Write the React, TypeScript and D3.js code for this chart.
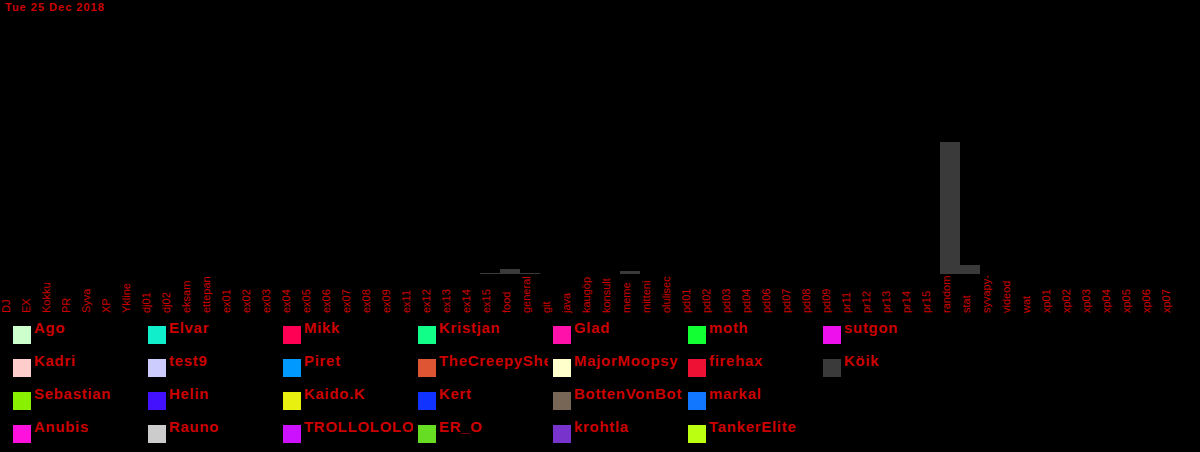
import React from "react";
import * as d3 from "d3";

const TITLE = "Tue 25 Dec 2018";

const categories = [
  "DJ", "EX", "Kokku", "PR", "Syva", "XP", "Ykline", "dj01", "dj02", "eksam",
  "ettepan", "ex01", "ex02", "ex03", "ex04", "ex05", "ex06", "ex07", "ex08", "ex09",
  "ex11", "ex12", "ex13", "ex14", "ex15", "food", "general", "git", "java", "kaugöp",
  "konsult", "meme", "mitteni", "olulisec", "pd01", "pd02", "pd03", "pd04", "pd06", "pd07",
  "pd08", "pd09", "pr11", "pr12", "pr13", "pr14", "pr15", "random", "stat", "syvapy-",
  "videod", "wat", "xp01", "xp02", "xp03", "xp04", "xp05", "xp06", "xp07",
];

// "Köik" series values per category (only non-zero ones listed)
const koikValues: Record<string, number> = {
  ex15: 1,
  food: 5,
  general: 1,
  meme: 3,
  random: 132,
  stat: 9,
};

const yMax = 254;

const legendNames = [
  "Ago", "Kadri", "Sebastian", "Anubis",
  "Elvar", "test9", "Helin", "Rauno",
  "Mikk", "Piret", "Kaido.K", "TROLLOLOLO",
  "Kristjan", "TheCreepySheep", "Kert", "ER_O",
  "Glad", "MajorMoopsy", "BottenVonBot", "krohtla",
  "moth", "firehax", "markal", "TankerElite",
  "sutgon", "Köik",
];

const legendColors = [
  "#ccffcc", "#ffcccc", "#88f000", "#ff11dd",
  "#11eecc", "#ccccff", "#4411ff", "#cccccc",
  "#ff0055", "#0099ff", "#e8f010", "#cc11ff",
  "#11ff88", "#dd5533", "#1133ff", "#66dd22",
  "#ff11aa", "#ffffcc", "#776655", "#7733cc",
  "#11ff33", "#ee1133", "#1177ff", "#bbff11",
  "#ee11ee", "#3a3a3a",
];

const RED = "#cc0000";

export default function App() {
  const W = 1200;
  const H = 452;
  const x = d3.scaleBand<string>().domain(categories).range([0, categories.length * 20]).padding(0);
  const y = d3.scaleLinear().domain([0, yMax]).range([274, 20]);
  const bw = x.bandwidth();

  const rows = 4;
  const colW = 135;
  const rowH = 33;

  return (
    <div style={{ position: "fixed", left: 0, top: 0 }}>
      <svg width={W} height={H} style={{ display: "block", background: "#000" }}>
        <defs>
          {legendNames.map((n, i) => {
            const c = Math.floor(i / rows);
            const r = i % rows;
            const lx = 13 + c * colW;
            const ly = 326 + r * rowH;
            return (
              <clipPath id={`lc${i}`} key={n}>
                <rect x={lx} y={ly - 20} width={130} height={40} />
              </clipPath>
            );
          })}
        </defs>
        <rect x={0} y={0} width={W} height={H} fill="#000" />
        <text x={5} y={11} fill={RED} fontFamily="Liberation Sans, Arial, sans-serif" fontSize={11} fontWeight="bold" letterSpacing={1}>
          {TITLE}
        </text>
        <g>
          {categories.map((c) => (
            <text
              key={c}
              transform={`translate(${(x(c) ?? 0) + 10},313) rotate(-90)`}
              fill={RED}
              fontFamily="Liberation Sans, Arial, sans-serif"
              fontSize={11}
              textAnchor="start"
            >
              {c}
            </text>
          ))}
        </g>
        <g>
          {categories
            .filter((c) => (koikValues[c] ?? 0) > 0)
            .map((c) => (
              <rect
                key={c}
                x={x(c)}
                y={y(koikValues[c])}
                width={bw}
                height={y(0) - y(koikValues[c])}
                fill="#3a3a3a"
              />
            ))}
        </g>
        <g>
          {legendNames.map((n, i) => {
            const c = Math.floor(i / rows);
            const r = i % rows;
            const lx = 13 + c * colW;
            const ly = 326 + r * rowH;
            return (
              <g key={n}>
                <rect x={lx} y={ly} width={18} height={18} fill={legendColors[i]} />
                <text
                  x={lx + 21}
                  y={ly + 7}
                  fill={RED}
                  fontFamily="Liberation Sans, Arial, sans-serif"
                  fontSize={15}
                  fontWeight="bold"
                  letterSpacing={0.7}
                  clipPath={`url(#lc${i})`}
                >
                  {n}
                </text>
              </g>
            );
          })}
        </g>
      </svg>
    </div>
  );
}
